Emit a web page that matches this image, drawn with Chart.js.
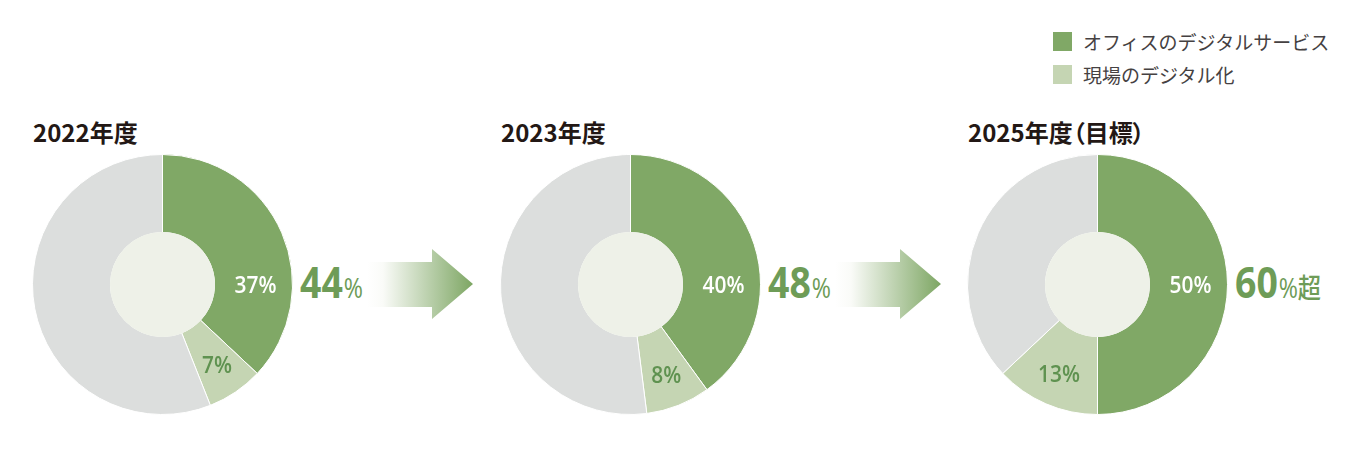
<!DOCTYPE html>
<html><head><meta charset="utf-8">
<script src="https://cdn.jsdelivr.net/npm/chart.js@4.4.1/dist/chart.umd.min.js"></script>
<style>
html,body{margin:0;padding:0;background:#fff;width:1360px;height:449px;overflow:hidden;}
body{position:relative;font-family:'Noto Sans CJK JP',sans-serif;}
.pie{position:absolute;}
.title{position:absolute;font-weight:700;font-size:24px;color:#231815;white-space:nowrap;line-height:24px;font-feature-settings:"palt";}
.big{position:absolute;color:#6E9C57;white-space:nowrap;line-height:46px;transform:scaleX(0.86);transform-origin:0 0;font-family:'Open Sans',sans-serif;}
.big .n{font-size:43.5px;font-weight:700;}
.big .p{font-size:27px;font-weight:400;margin-left:1px;}
.big .s{font-size:27px;font-weight:500;font-family:'Noto Sans CJK JP',sans-serif;}
.arrow{position:absolute;}
#legend{position:absolute;left:1053px;top:32px;}
#legend .row{display:flex;align-items:center;height:19px;margin-bottom:14px;}
#legend .sw{width:19px;height:19px;margin-right:11px;}
#legend .tx{font-size:19px;color:#454142;white-space:nowrap;line-height:19px;}
</style></head>
<body>
<div id="legend"></div>
<script>
// ---- data ----
const years = ['2022年度', '2023年度', '2025年度（目標）'];
const seriesNames = ['オフィスのデジタルサービス', '現場のデジタル化'];
const officeDigital = [37, 40, 50];
const fieldDigital = [7, 8, 13];
const otherShare = [56, 52, 37];
const totals = ['44', '48', '60'];
const totalUnits = ['%', '%', '%'];
const totalSuffix = ['', '', '超'];

// ---- styles ----
const colors = ['#80A866', '#C5D5B3', '#DCDEDD'];
const centerColor = '#EEF1E8';
const centersX = [162, 630, 1097];
const centerY = 284;
const R = 130;

// legend
const legend = document.getElementById('legend');
seriesNames.forEach((name, i) => {
  const row = document.createElement('div'); row.className = 'row';
  const sw = document.createElement('div'); sw.className = 'sw'; sw.style.background = colors[i];
  const tx = document.createElement('div'); tx.className = 'tx'; tx.textContent = name;
  row.appendChild(sw); row.appendChild(tx); legend.appendChild(row);
});

const labelPlugin = {
  id: 'sliceLabels',
  afterDatasetsDraw(chart) {
    const ctx = chart.ctx;
    const meta = chart.getDatasetMeta(0);
    const arcs = meta.data;
    const p = arcs[0].getProps(['x', 'y', 'innerRadius', 'outerRadius'], true);
    ctx.save();
    ctx.beginPath();
    ctx.arc(p.x, p.y, p.innerRadius + 0.5, 0, Math.PI * 2);
    ctx.fillStyle = centerColor;
    ctx.fill();
    const rMid = (p.innerRadius + p.outerRadius) / 2;
    ctx.textAlign = 'center';
    ctx.textBaseline = 'alphabetic';
    ctx.font = '600 24px "Open Sans", sans-serif';
    const ds = chart.data.datasets[0].data;
    const draw = (txt, x, y, color) => {
      ctx.fillStyle = color;
      ctx.save();
      ctx.translate(x, y + 8.5);
      ctx.scale(0.87, 1);
      ctx.fillText(txt, 0, 0);
      ctx.restore();
    };
    // office slice label
    {
      const a = arcs[0].getProps(['startAngle', 'endAngle'], true);
      let ang = 0;
      if (!(a.startAngle <= 0 && a.endAngle >= 0)) ang = (a.startAngle + a.endAngle) / 2;
      const r = rMid + 2;
      draw(ds[0] + '%', p.x + Math.cos(ang) * r, p.y + Math.sin(ang) * r, '#FFFFFF');
    }
    // field slice label
    {
      const a = arcs[1].getProps(['startAngle', 'endAngle'], true);
      const ang = (a.startAngle + a.endAngle) / 2;
      const r = rMid + 6;
      draw(ds[1] + '%', p.x + Math.cos(ang) * r, p.y + Math.sin(ang) * r, '#5F9250');
    }
    ctx.restore();
  }
};

years.forEach((yr, i) => {
  const cx = centersX[i];
  // title
  const t = document.createElement('div');
  t.className = 'title'; t.textContent = yr;
  t.style.left = (cx - R + 1) + 'px'; t.style.top = '120px';
  document.body.appendChild(t);
  // chart
  const wrap = document.createElement('div');
  wrap.className = 'pie';
  wrap.style.left = (cx - R) + 'px'; wrap.style.top = (centerY - R) + 'px';
  const cv = document.createElement('canvas');
  cv.width = 261; cv.height = 261;
  cv.style.width = '261px'; cv.style.height = '261px';
  wrap.appendChild(cv);
  document.body.appendChild(wrap);
  new Chart(cv, {
    type: 'doughnut',
    data: {
      labels: [seriesNames[0], seriesNames[1], ''],
      datasets: [{
        data: [officeDigital[i], fieldDigital[i], otherShare[i]],
        backgroundColor: colors,
        borderColor: '#FFFFFF',
        borderWidth: 1,
        hoverOffset: 0,
        offset: 0
      }]
    },
    options: {
      responsive: false,
      animation: false,
      cutout: '40%',
      layout: { padding: 0 },
      events: [],
      plugins: { legend: { display: false }, tooltip: { enabled: false } }
    },
    plugins: [labelPlugin]
  });
  // big total
  const b = document.createElement('div');
  b.className = 'big';
  b.style.left = (cx + 138) + 'px'; b.style.top = '259px';
  b.innerHTML = '<span class="n"></span><span class="p"></span><span class="s"></span>';
  b.querySelector('.n').textContent = totals[i];
  b.querySelector('.p').textContent = totalUnits[i];
  b.querySelector('.s').textContent = totalSuffix[i];
  document.body.appendChild(b);
  // arrow
  if (i < years.length - 1) {
    const ns = 'http://www.w3.org/2000/svg';
    const svg = document.createElementNS(ns, 'svg');
    svg.setAttribute('class', 'arrow');
    svg.setAttribute('width', '110'); svg.setAttribute('height', '73');
    svg.style.left = (cx + 203) + 'px'; svg.style.top = '248px';
    svg.innerHTML = '<defs><linearGradient id="g' + i + '" gradientUnits="userSpaceOnUse" x1="2" y1="0" x2="108" y2="0">' +
      '<stop offset="0" stop-color="#FFFFFF"/><stop offset="0.15" stop-color="#FAFBF8"/><stop offset="1" stop-color="#7DA663"/></linearGradient></defs>' +
      '<polygon points="2,14 67,14 67,1 108,36 67,71 67,59 2,59" fill="url(#g' + i + ')"/>';
    document.body.appendChild(svg);
  }
});
</script>
</body></html>
